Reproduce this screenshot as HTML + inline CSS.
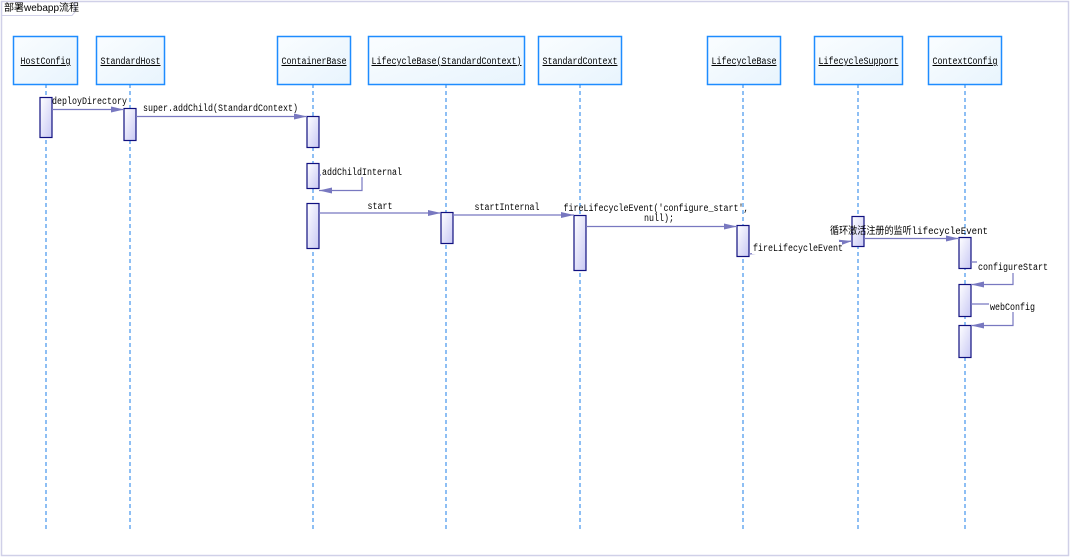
<!DOCTYPE html>
<html><head><meta charset="utf-8"><style>
html,body{margin:0;padding:0;background:#fff;}
svg{display:block;}
text{font-family:"Liberation Mono","Noto Sans CJK SC",monospace;font-size:10px;fill:#000;}
</style></head><body>
<svg width="1070" height="557" viewBox="0 0 1070 557" xmlns="http://www.w3.org/2000/svg">
<defs>
<linearGradient id="bx" x1="0" y1="0" x2="1" y2="1"><stop offset="0" stop-color="#fafdff"/><stop offset="1" stop-color="#e8f4fd"/></linearGradient>
<linearGradient id="ac" x1="0" y1="0" x2="1" y2="1"><stop offset="0" stop-color="#ffffff"/><stop offset="1" stop-color="#c8c8f4"/></linearGradient>
<marker id="ar" markerWidth="14" markerHeight="8" refX="13" refY="4" orient="auto" markerUnits="userSpaceOnUse"><path d="M0,1 L13,4 L0,7 Z" fill="#7878c0"/></marker>
</defs>
<rect x="1.5" y="1.5" width="1067" height="554" fill="#fff" stroke="#d0d0e8" stroke-width="1.5"/>
<path d="M1.5,15.5 H72 L75,12 V1.5" fill="none" stroke="#d0d0e8"/>
<text x="4" y="11" style="font-family:'Liberation Sans','Noto Sans CJK SC',sans-serif;font-size:10px">部署webapp流程</text>

<g stroke="#1e7fe8" stroke-dasharray="4,3" stroke-width="1">
<line x1="46" y1="84" x2="46" y2="531"/><line x1="130" y1="84" x2="130" y2="531"/>
<line x1="313" y1="84" x2="313" y2="531"/><line x1="446" y1="84" x2="446" y2="531"/>
<line x1="580" y1="84" x2="580" y2="531"/><line x1="743" y1="84" x2="743" y2="531"/>
<line x1="858" y1="84" x2="858" y2="531"/><line x1="965" y1="84" x2="965" y2="531"/>
</g>

<g fill="url(#bx)" stroke="#1e8cff" stroke-width="1.5">
<rect x="13.5" y="36.5" width="64" height="48"/>
<rect x="96.5" y="36.5" width="68" height="48"/>
<rect x="277.5" y="36.5" width="73" height="48"/>
<rect x="368.5" y="36.5" width="156" height="48"/>
<rect x="538.5" y="36.5" width="83" height="48"/>
<rect x="707.5" y="36.5" width="73" height="48"/>
<rect x="814.5" y="36.5" width="88" height="48"/>
<rect x="928.5" y="36.5" width="73" height="48"/>
</g>
<g text-anchor="middle" text-decoration="underline" lengthAdjust="spacingAndGlyphs">
<text x="45.5" y="64" textLength="50" lengthAdjust="spacingAndGlyphs">HostConfig</text>
<text x="130.5" y="64" textLength="60" lengthAdjust="spacingAndGlyphs">StandardHost</text>
<text x="314" y="64" textLength="65" lengthAdjust="spacingAndGlyphs">ContainerBase</text>
<text x="446.5" y="64" textLength="150" lengthAdjust="spacingAndGlyphs">LifecycleBase(StandardContext)</text>
<text x="580" y="64" textLength="75" lengthAdjust="spacingAndGlyphs">StandardContext</text>
<text x="744" y="64" textLength="65" lengthAdjust="spacingAndGlyphs">LifecycleBase</text>
<text x="858.5" y="64" textLength="80" lengthAdjust="spacingAndGlyphs">LifecycleSupport</text>
<text x="965" y="64" textLength="65" lengthAdjust="spacingAndGlyphs">ContextConfig</text>
</g>

<g fill="url(#ac)" stroke="#101080" stroke-width="1.2">
<rect x="40" y="97.5" width="12" height="40"/>
<rect x="124" y="108.5" width="12" height="32"/>
<rect x="307" y="116.5" width="12" height="31"/>
<rect x="307" y="163.5" width="12" height="25"/>
<rect x="307" y="203.5" width="12" height="45"/>
<rect x="441" y="212.5" width="12" height="31"/>
<rect x="574" y="215.5" width="12" height="55"/>
<rect x="737" y="225.5" width="12" height="31"/>
<rect x="852" y="216.5" width="12" height="30"/>
<rect x="959" y="237.5" width="12" height="31"/>
<rect x="959" y="284.5" width="12" height="32"/>
<rect x="959" y="325.5" width="12" height="32"/>
</g>

<g stroke="#7878c0" stroke-width="1.2" fill="none" marker-end="url(#ar)">
<line x1="52" y1="109.5" x2="124" y2="109.5"/>
<line x1="136" y1="116.5" x2="307" y2="116.5"/>
<polyline points="319,175 362,175 362,190.5 319,190.5"/>
<line x1="319" y1="213" x2="441" y2="213"/>
<line x1="453" y1="215" x2="574" y2="215"/>
<line x1="586" y1="226.5" x2="737" y2="226.5"/>
<polyline points="749,254 772,252 852,241"/>
<line x1="864" y1="238.5" x2="959" y2="238.5"/>
<polyline points="971,262 1013,262 1013,284.5 971,284.5"/>
<polyline points="971,304 1013,304 1013,325.5 971,325.5"/>
</g>

<g>
<text x="52" y="104" textLength="75" lengthAdjust="spacingAndGlyphs">deployDirectory</text>
<text x="143" y="111" textLength="155" lengthAdjust="spacingAndGlyphs">super.addChild(StandardContext)</text>
<rect x="321" y="165" width="80" height="12" fill="#fff"/>
<text x="322" y="175" textLength="80" lengthAdjust="spacingAndGlyphs">addChildInternal</text>
<text x="380" y="209" text-anchor="middle" textLength="25" lengthAdjust="spacingAndGlyphs">start</text>
<text x="507" y="210" text-anchor="middle" textLength="65" lengthAdjust="spacingAndGlyphs">startInternal</text>
<text x="656" y="211" text-anchor="middle" textLength="185" lengthAdjust="spacingAndGlyphs">fireLifecycleEvent('configure_start',</text>
<text x="659" y="221" text-anchor="middle" textLength="30" lengthAdjust="spacingAndGlyphs">null);</text>
<rect x="752" y="242" width="90" height="12" fill="#fff"/>
<text x="753" y="251" textLength="90" lengthAdjust="spacingAndGlyphs">fireLifecycleEvent</text>
<text x="830" y="234" textLength="158" lengthAdjust="spacingAndGlyphs">循环激活注册的监听lifecycleEvent</text>
<rect x="977" y="261" width="70" height="12" fill="#fff"/>
<text x="978" y="270" textLength="70" lengthAdjust="spacingAndGlyphs">configureStart</text>
<rect x="989" y="300" width="46" height="12" fill="#fff"/>
<text x="990" y="310" textLength="45" lengthAdjust="spacingAndGlyphs">webConfig</text>
</g>
</svg>
</body></html>
